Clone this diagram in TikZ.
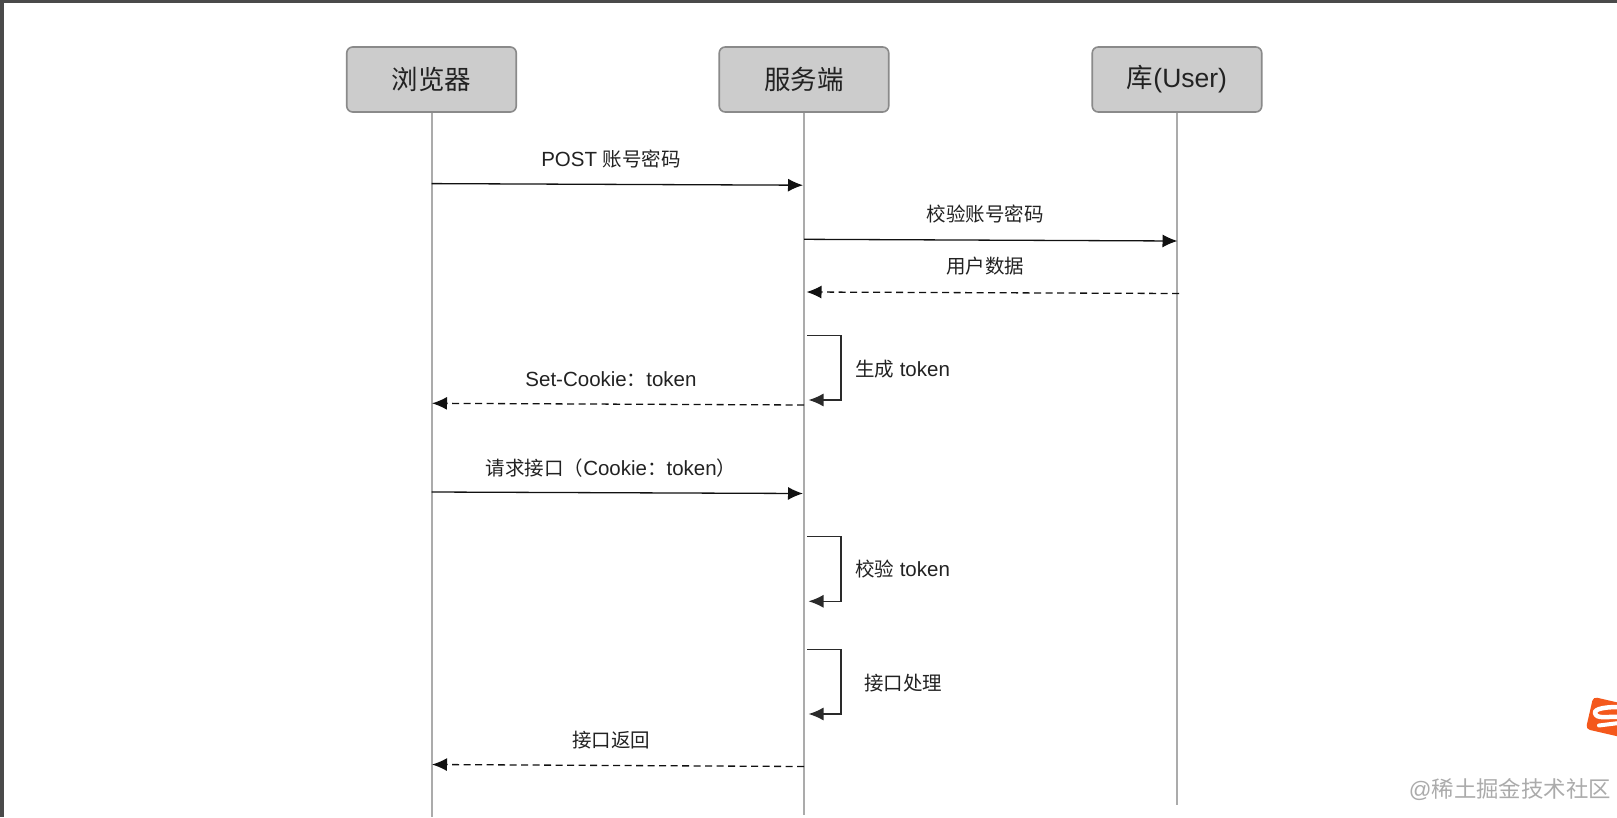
\documentclass[tikz,border=0pt]{standalone}
\usepackage{fontspec}
\setmainfont{Liberation Sans}
\newfontfamily\cjk{Noto Sans CJK SC}
\usetikzlibrary{arrows.meta}
\definecolor{boxfill}{HTML}{CCCCCC}
\definecolor{boxline}{HTML}{8A8A8A}
\definecolor{lifeline}{HTML}{ABABAB}
\definecolor{msgline}{HTML}{111111}
\definecolor{loopline}{HTML}{2A2A2A}
\definecolor{txt}{HTML}{222222}
\definecolor{frame}{HTML}{4A4A4A}
\definecolor{mark}{HTML}{ABABAB}
\definecolor{sogou}{HTML}{F4581C}
\newcommand{\zh}[1]{{\fontsize{19.5}{22}\cjk #1}}
\tikzset{
  x=1pt,y=-1pt,
  actor/.style={draw=boxline,fill=boxfill,line width=1.6pt,rounded corners=6pt,minimum width=169.5pt,minimum height=65pt,inner sep=0pt,text=txt,font=\fontsize{26.5}{28}\selectfont},
  life/.style={draw=lifeline,line width=2pt},
  msg/.style={draw=msgline,line width=1.3pt,-{Latex[length=15pt,width=13pt]}},
  reply/.style={msg,dash pattern=on 7pt off 4.5pt},
  selfloop/.style={draw=loopline,line width=1.4pt,-{Latex[length=15pt,width=13pt]}},
  lbl/.style={text=txt,font=\fontsize{20.5}{22}\selectfont,inner sep=0pt},
}
\begin{document}
\begin{tikzpicture}
\useasboundingbox (0,0) rectangle (1617,817);
\fill[white] (0,0) rectangle (1617,817);
\fill[frame] (0,0) rectangle (1617,3);
\fill[frame] (0,0) rectangle (4,817);

% actors
\node[actor] (browser) at (431.5,79.5) {\raisebox{-3.5pt}{\cjk 浏览器}};
\node[actor] (server) at (804,79.5) {\raisebox{-3.5pt}{\cjk 服务端}};
\node[actor] (db) at (1177,79.5) {\raisebox{-3.5pt}{{\cjk 库}(User)}};

% lifeline ends
\coordinate (browserEnd) at (431.5,817);
\coordinate (serverEnd) at (804,815);
\coordinate (dbEnd) at (1177,805);
\draw[life] (browser.south) -- (browserEnd);
\draw[life] (server.south) -- (serverEnd);
\draw[life] (db.south) -- (dbEnd);

% message ends
\coordinate (m1a) at (431.5,183.6); \coordinate (m1b) at (803,185.2);
\coordinate (m2a) at (804,239.3); \coordinate (m2b) at (1177.5,241);
\coordinate (m3a) at (1179,293.5); \coordinate (m3b) at (806.5,292);
\coordinate (m4a) at (807,335.2); \coordinate (m4b) at (841,335.2); \coordinate (m4c) at (841,400); \coordinate (m4d) at (808.5,400);
\coordinate (m5a) at (804,405); \coordinate (m5b) at (432,403.3);
\coordinate (m6a) at (431.5,492); \coordinate (m6b) at (803,493.5);
\coordinate (m7a) at (807,536.3); \coordinate (m7b) at (841,536.3); \coordinate (m7c) at (841,601.3); \coordinate (m7d) at (808.5,601.3);
\coordinate (m8a) at (807,649.7); \coordinate (m8b) at (841,649.7); \coordinate (m8c) at (841,714); \coordinate (m8d) at (808.5,714);
\coordinate (m9a) at (804,766.5); \coordinate (m9b) at (432,764.5);

\draw[msg] (m1a) -- (m1b);
\draw[msg] (m2a) -- (m2b);
\draw[reply] (m3a) -- (m3b);
\draw[selfloop] (m4a) -- (m4b) -- (m4c) -- (m4d);
\draw[reply] (m5a) -- (m5b);
\draw[msg] (m6a) -- (m6b);
\draw[selfloop] (m7a) -- (m7b) -- (m7c) -- (m7d);
\draw[selfloop] (m8a) -- (m8b) -- (m8c) -- (m8d);
\draw[reply] (m9a) -- (m9b);

% labels
\node[lbl] (l1) at (611,159.3) {POST \zh{账号密码}};
\node[lbl] (l2) at (985,214.3) {\zh{校验账号密码}};
\node[lbl] (l3) at (985,266.5) {\zh{用户数据}};
\node[lbl] (l4) at (902.5,369.3) {\zh{生成} token};
\node[lbl] (l5) at (611,378.8) {Set-Cookie\zh{：}token};
\node[lbl] (l6) at (606.5,467.8) [xshift=4.5pt] {\zh{请求接口（}Cookie\zh{：}token\zh{）}};
\node[lbl] (l7) at (902.5,569.3) {\zh{校验} token};
\node[lbl] (l8) at (903,683.3) {\zh{接口处理}};
\node[lbl] (l9) at (611,740) {\zh{接口返回}};

% watermark
\node[text=mark,font=\fontsize{22.4}{24}\selectfont,inner sep=0pt,anchor=east] (wm) at (1611,789.5) {@{\cjk 稀土掘金技术社区}};

% input method badge
\begin{scope}
\clip (1580,690) rectangle (1617,740);
\fill[sogou,rounded corners=4pt,rotate around={-13:(1605,717)}] (1589,700) rectangle (1640,733);
\draw[white,line width=4.5pt,line cap=round] (1619,707) .. controls (1600,707) and (1592,710) .. (1596,715) .. controls (1599,719) and (1612,716) .. (1619,717);
\draw[white,line width=4pt,line cap=round] (1599,725.5) -- (1619,723);
\end{scope}
\end{tikzpicture}
\end{document}
